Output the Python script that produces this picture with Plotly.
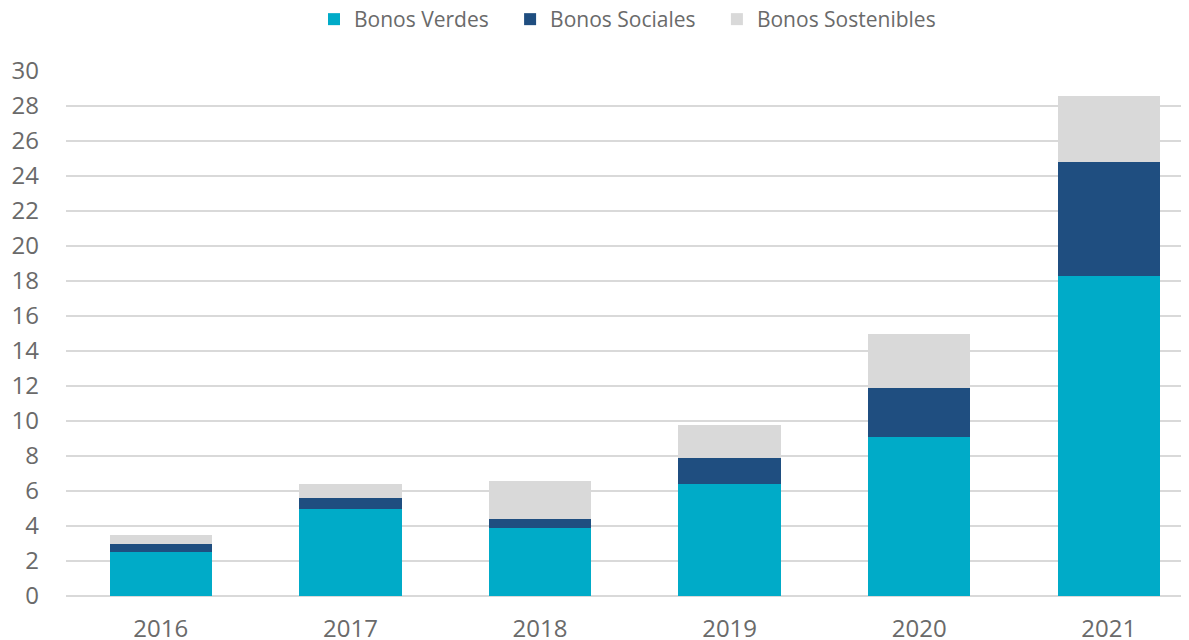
import plotly.graph_objects as go

years = ["2016", "2017", "2018", "2019", "2020", "2021"]
verdes = [2.5, 5.0, 3.9, 6.4, 9.1, 18.3]
sociales = [0.5, 0.6, 0.5, 1.5, 2.8, 6.5]
sostenibles = [0.5, 0.8, 2.2, 1.9, 3.1, 3.8]
series_names = ["Bonos Verdes", "Bonos Sociales", "Bonos Sostenibles"]
y_ticks = list(range(0, 31, 2))

font_color = "#6A6A6A"
pad = "\u00a0" * 3
fig = go.Figure()
for i, (name, vals, color) in enumerate(zip(
        series_names, [verdes, sociales, sostenibles], ["#00ABC8", "#1F4E80", "#D9D9D9"])):
    label = name + (pad if i < 2 else "")
    fig.add_trace(go.Bar(x=years, y=vals, name=label,
                         marker=dict(color=color, line=dict(width=0)), width=0.54))

# page body has an 8px default margin, so the figure is sized to fit the window
W, H = 1181, 632
fig.update_layout(
    barmode="stack",
    width=W, height=H,
    margin=dict(l=58, r=0, t=63, b=44, autoexpand=False),
    plot_bgcolor="white", paper_bgcolor="white",
    font=dict(family="Open Sans", size=24, color=font_color),
    legend=dict(orientation="h", x=0.5, xanchor="center", y=1 - 11.5 / H, yanchor="middle",
                yref="container", font=dict(size=21, color=font_color),
                traceorder="normal", itemwidth=30),
    showlegend=True,
    xaxis=dict(type="category", range=[-0.5, 5.423], showgrid=False, ticks="",
               ticklabelstandoff=16, tickfont=dict(size=24, color=font_color)),
    yaxis=dict(range=[0, 30], tickvals=y_ticks, showgrid=True, gridcolor="#D9D9D9", gridwidth=1.5,
               zeroline=True, zerolinecolor="#D9D9D9", zerolinewidth=1.5,
               ticks="", ticklabelstandoff=26, tickfont=dict(size=24, color=font_color)),
)

fig.write_html("out.html")
